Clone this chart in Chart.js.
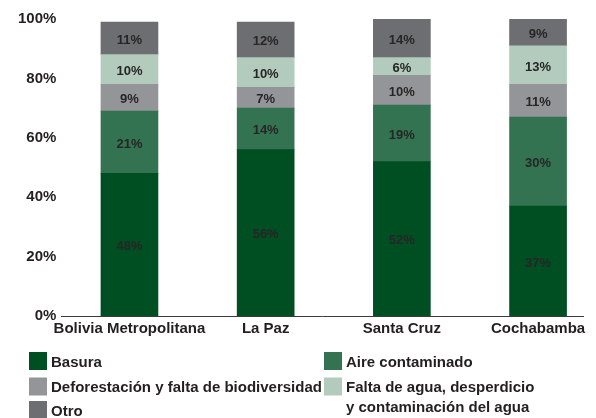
<!DOCTYPE html>
<html>
<head>
<meta charset="utf-8">
<script src="https://cdn.jsdelivr.net/npm/chart.js@4"></script>
<style>
  html, body { margin: 0; padding: 0; background: #ffffff; }
  #wrap { position: relative; width: 596px; height: 418px; }
</style>
</head>
<body>
<div id="wrap"><canvas id="c"></canvas></div>
<script>
// ---- data ----
const categories = ['Bolivia Metropolitana', 'La Paz', 'Santa Cruz', 'Cochabamba'];
const basura = [48, 56, 52, 37];
const aireContaminado = [21, 14, 19, 30];
const deforestacion = [9, 7, 10, 11];
const faltaAgua = [10, 10, 6, 13];
const otro = [11, 12, 14, 9];
const seriesNames = ['Basura', 'Aire contaminado', 'Deforestación y falta de biodiversidad',
  'Falta de agua, desperdicio\ny contaminación del agua', 'Otro'];
const yTickValues = [0, 20, 40, 60, 80, 100];

// ---- styles ----
const colors = ['#004f23', '#337351', '#949599', '#b3cbbc', '#6d6e71'];
const textColor = '#231f20';
const boldFont = '"Liberation Sans", Arial, Helvetica, sans-serif';

const seriesValues = [basura, aireContaminado, deforestacion, faltaAgua, otro];

const datasets = seriesValues.map((vals, k) => ({
  label: seriesNames[k],
  data: vals.map((v, i) => ({ x: i, y: v })),
  backgroundColor: colors[k],
  borderWidth: 0,
  barThickness: 57
}));

const valueLabels = {
  id: 'valueLabels',
  afterDatasetsDraw(chart) {
    const ctx = chart.ctx;
    const area = chart.chartArea;
    ctx.save();
    ctx.font = 'bold 13px ' + boldFont;
    ctx.fillStyle = '#262626';
    ctx.textAlign = 'center';
    ctx.textBaseline = 'middle';
    chart.data.datasets.forEach((ds, i) => {
      const meta = chart.getDatasetMeta(i);
      meta.data.forEach((el, j) => {
        const top = Math.max(el.y, area.top);
        ctx.fillText(ds.data[j].y + '%', el.x, (top + el.base) / 2 + 2);
      });
    });
    ctx.restore();
  }
};

const customLegend = {
  id: 'customLegend',
  afterDraw(chart) {
    const ctx = chart.ctx;
    const slots = [[29, 352], [324, 352], [29, 377.5], [324, 377.5], [29, 401]];
    ctx.save();
    ctx.font = 'bold 15px ' + boldFont;
    ctx.textAlign = 'left';
    ctx.textBaseline = 'alphabetic';
    chart.data.datasets.forEach((ds, k) => {
      const [bx, by] = slots[k];
      ctx.fillStyle = ds.backgroundColor;
      ctx.fillRect(bx, by, 18, 18);
      ctx.fillStyle = textColor;
      ds.label.split('\n').forEach((line, li) => {
        ctx.fillText(line, bx + 22, by + 14.5 + li * 19.5);
      });
    });
    ctx.restore();
  }
};

new Chart(document.getElementById('c'), {
  type: 'bar',
  data: { datasets },
  plugins: [valueLabels, customLegend],
  options: {
    responsive: true,
    maintainAspectRatio: false,
    animation: false,
    layout: { padding: { left: 13, right: 13, top: 19, bottom: 76 } },
    plugins: {
      legend: { display: false },
      tooltip: { enabled: false }
    },
    scales: {
      x: {
        type: 'linear',
        stacked: true,
        offset: false,
        min: -0.5,
        max: 3.33,
        grid: { display: false, drawTicks: false, offset: false },
        border: { display: true, color: '#3a3a3a', width: 1 },
        afterBuildTicks: axis => { axis.ticks = categories.map((c, i) => ({ value: i })); },
        ticks: {
          autoSkip: false,
          maxRotation: 0,
          padding: 4,
          color: textColor,
          font: { family: boldFont, size: 15, weight: 'bold' },
          callback: v => categories[v]
        }
      },
      y: {
        stacked: true,
        min: 0,
        max: 100,
        grid: { display: false, drawTicks: false },
        border: { display: false },
        afterBuildTicks: axis => { axis.ticks = yTickValues.map(v => ({ value: v })); },
        ticks: {
          padding: 5,
          color: textColor,
          font: { family: boldFont, size: 15, weight: 'bold' },
          callback: v => v + '%'
        }
      }
    }
  }
});
</script>
</body>
</html>
